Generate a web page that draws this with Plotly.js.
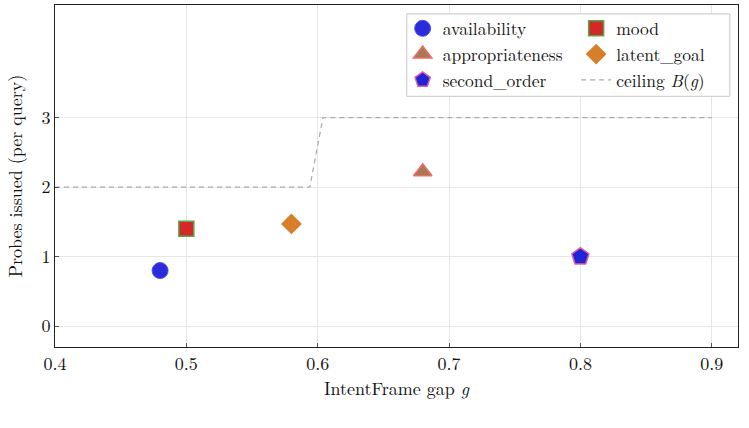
<!DOCTYPE html>
<html>
<head>
<meta charset="utf-8">
<script src="https://cdn.plot.ly/plotly-3.0.1.min.js"></script>
<style>html,body{margin:0;padding:0;background:#fff;}#chart{width:749px;height:428px;}</style>
</head>
<body>
<div id="chart"></div>
<script>
// Probe categories: IntentFrame gap and probes issued per query
const categories = ["availability", "mood", "appropriateness", "latent_goal", "second_order"];
const gapValues = [0.48, 0.50, 0.68, 0.58, 0.80];
const probeValues = [0.80, 1.40, 2.22, 1.47, 1.00];

// Ceiling B(g) step curve
const ceilingGap = [0.40, 0.594, 0.604, 0.90];
const ceilingProbes = [2, 2, 3, 3];

const xTicks = [0.4, 0.5, 0.6, 0.7, 0.8, 0.9];
const yTicks = [0, 1, 2, 3];

const styles = {
  availability:    {symbol: "circle",      size: 16, color: "#2b2bdc", line: "#5252f0", lw: 1,   legend: "legend"},
  mood:            {symbol: "square",      size: 15, color: "#d62728", line: "#55a84a", lw: 1.5, legend: "legend2"},
  appropriateness: {symbol: "triangle-up", size: 16, color: "#a67a50", line: "#f26a6a", lw: 1.5, legend: "legend"},
  latent_goal:     {symbol: "diamond",     size: 16, color: "#d67f28", line: "#d67f28", lw: 0,   legend: "legend2"},
  second_order:    {symbol: "pentagon",    size: 18, color: "#2222d8", line: "#e0609a", lw: 1.5, legend: "legend"}
};

const traces = categories.map((c, i) => ({
  type: "scatter", mode: "markers", name: c, legend: styles[c].legend,
  x: [gapValues[i]], y: [probeValues[i]],
  marker: {symbol: styles[c].symbol, size: styles[c].size, color: styles[c].color,
           line: {color: styles[c].line, width: styles[c].lw}}
}));

traces.push({
  type: "scatter", mode: "lines", name: "ceiling <i>B</i>(<i>g</i>)", legend: "legend2",
  x: ceilingGap, y: ceilingProbes,
  line: {color: "#aaaaaa", width: 1.2, dash: "5px,4px"}
});

const serif = "Latin Modern Roman, CMU Serif, DejaVu Serif, serif";
const fs = 18;

const legendBase = {
  orientation: "v", yanchor: "top", xanchor: "left", y: 0.984,
  bgcolor: "rgba(0,0,0,0)", borderwidth: 0,
  font: {family: serif, size: 17.5}, traceorder: "normal", itemsizing: "trace"
};

const layout = {
  width: 749, height: 428,
  margin: {l: 55, r: 11, t: 5, b: 81},
  paper_bgcolor: "#fff", plot_bgcolor: "#fff",
  font: {family: serif, size: fs, color: "#111"},
  showlegend: true,
  xaxis: {
    range: [0.4, 0.92], tickvals: xTicks, ticktext: xTicks.map(v => v.toFixed(1)),
    showgrid: true, gridcolor: "#e6e6e6", gridwidth: 1,
    showline: true, linecolor: "#222", linewidth: 1, mirror: true,
    ticks: "inside", ticklen: 4, tickcolor: "#555", zeroline: false,
    tickfont: {family: serif, size: fs},
    title: {text: "IntentFrame gap <i>g</i>", font: {family: serif, size: fs}, standoff: 6}
  },
  yaxis: {
    range: [-0.3, 4.62], tickvals: yTicks,
    showgrid: true, gridcolor: "#e6e6e6", gridwidth: 1,
    showline: true, linecolor: "#222", linewidth: 1, mirror: true,
    ticks: "inside", ticklen: 4, tickcolor: "#555", zeroline: false,
    tickfont: {family: serif, size: fs},
    title: {text: "Probes issued (per query)", font: {family: serif, size: fs}, standoff: 14}
  },
  legend: Object.assign({}, legendBase, {x: 0.509}),
  legend2: Object.assign({}, legendBase, {x: 0.763}),
  shapes: [{
    type: "rect", xref: "paper", yref: "paper", layer: "above",
    x0: 0.515, x1: 0.988, y0: 0.733, y1: 0.974,
    fillcolor: "#fff", line: {color: "#c8c8c8", width: 1}
  }]
};

Plotly.newPlot("chart", traces, layout, {displayModeBar: false, staticPlot: true});
</script>
</body>
</html>
